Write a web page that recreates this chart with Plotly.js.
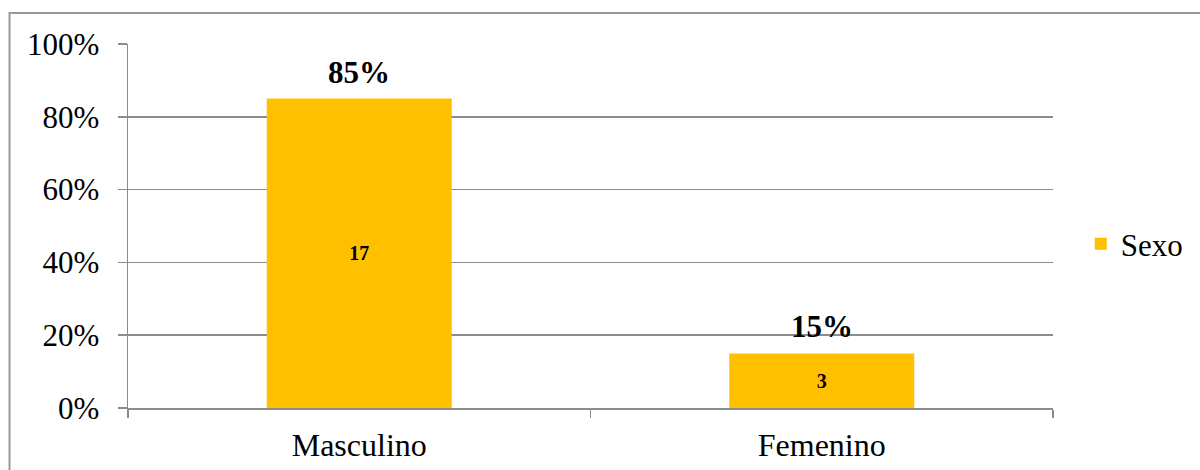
<!DOCTYPE html>
<html>
<head>
<meta charset="utf-8">
<script src="https://cdn.plot.ly/plotly-3.0.1.min.js"></script>
<style>html,body{margin:0;padding:0;background:#fff;}#chart{width:1200px;height:470px;}</style>
</head>
<body>
<div id="chart"></div>
<script>
var categories = ["Masculino", "Femenino"];
var percentValues = [0.85, 0.15];
var counts = [17, 3];
var percentLabels = ["85%", "15%"];
var seriesName = "Sexo";
var yTickValues = [0, 0.2, 0.4, 0.6, 0.8, 1.0];
var yTickLabels = ["0%", "20%", "40%", "60%", "80%", "100%"];

var FONT = '"Liberation Serif", "Times New Roman", serif';
var GRID = '#8c8c8c';

var trace = {
  type: 'bar',
  name: seriesName,
  x: categories,
  y: percentValues,
  text: counts.map(String),
  textposition: 'inside',
  insidetextanchor: 'middle',
  textangle: 0,
  textfont: {family: FONT, size: 20, color: '#000000', weight: 'bold'},
  marker: {color: '#FFC000'},
  width: 0.4,
  hoverinfo: 'none'
};

var annotations = categories.map(function (c, i) {
  return {
    x: c, y: percentValues[i], xref: 'x', yref: 'y',
    text: '<b>' + percentLabels[i] + '</b>',
    showarrow: false, yanchor: 'bottom', yshift: 7,
    font: {family: FONT, size: 31, color: '#000000'}
  };
});

var layout = {
  width: 1200, height: 470,
  margin: {l: 128, r: 143, t: 44, b: 62, pad: 0},
  paper_bgcolor: '#ffffff', plot_bgcolor: '#ffffff',
  font: {family: FONT, color: '#000000', size: 31},
  showlegend: true,
  legend: {x: 1.03, y: 0.45, xanchor: 'left', yanchor: 'middle',
           font: {family: FONT, size: 31, color: '#000000'}, bgcolor: 'rgba(0,0,0,0)'},
  xaxis: {
    type: 'category',
    showgrid: false,
    showline: true, linecolor: GRID, linewidth: 1.5,
    ticks: 'outside', tickson: 'boundaries', ticklen: 8, tickcolor: GRID, tickwidth: 1.5,
    ticklabelstandoff: 8,
    tickfont: {family: FONT, size: 32, color: '#000000'},
    fixedrange: true
  },
  yaxis: {
    range: [0, 1],
    tickvals: yTickValues,
    ticktext: yTickLabels,
    showgrid: true, gridcolor: GRID, gridwidth: 1.5,
    showline: true, linecolor: GRID, linewidth: 1.5,
    zeroline: false,
    ticks: 'outside', ticklen: 9, tickcolor: GRID, tickwidth: 1.5,
    ticklabelstandoff: 12,
    tickfont: {family: FONT, size: 31, color: '#000000'},
    fixedrange: true
  },
  annotations: annotations,
  shapes: [{
    type: 'rect', xref: 'paper', yref: 'paper',
    x0: (9 - 128) / 929, x1: 1.3, y0: -0.3, y1: 1 + (44 - 13) / 364,
    line: {color: '#999999', width: 2}, fillcolor: 'rgba(0,0,0,0)', layer: 'below'
  }]
};

Plotly.newPlot('chart', [trace], layout, {displayModeBar: false, staticPlot: true});
</script>
</body>
</html>
